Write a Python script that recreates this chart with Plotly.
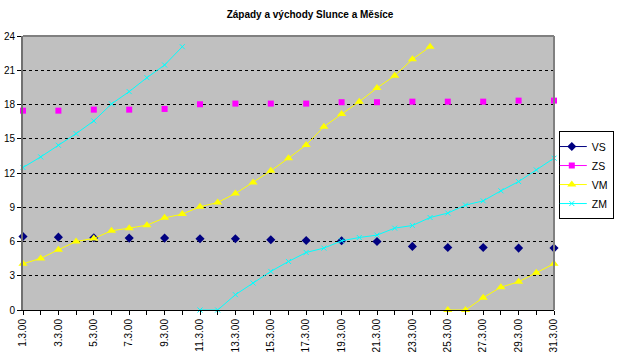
import plotly.graph_objects as go

# ---- data ----
days = list(range(1, 32))
date_labels = [f"{d}.3.00" for d in days]
tick_labels = [lbl if d % 2 == 1 else "" for d, lbl in zip(days, date_labels)]
y_ticks = [0, 3, 6, 9, 12, 15, 18, 21, 24]

vs = [6.44, None, 6.38, None, 6.33, None, 6.30, None, 6.30, None, 6.24, None,
      6.24, None, 6.15, None, 6.09, None, 6.06, None, 6.00, None, 5.57, None,
      5.48, None, 5.48, None, 5.42, None, 5.42]
zs = [17.46, None, 17.46, None, 17.55, None, 17.55, None, 17.61, None, 18.02, None,
      18.08, None, 18.08, None, 18.08, None, 18.20, None, 18.20, None, 18.25, None,
      18.25, None, 18.25, None, 18.34, None, 18.34]
vm = [4.05, 4.52, 5.28, 6.00, 6.27, 6.94, 7.17, 7.43, 8.07, 8.40, 9.04, 9.42,
      10.20, 11.17, 12.19, 13.30, 14.46, 16.06, 17.17, 18.25, 19.45, 20.52, 21.96,
      23.06, 0, 0, 1.08, 2.00, 2.47, 3.26, 4.05]
zm = [12.48, 13.41, 14.43, 15.45, 16.56, 18.05, 19.13, 20.35, 21.46, 23.06, 0, 0,
      1.34, 2.36, 3.38, 4.25, 5.04, 5.42, 6.06, 6.35, 6.56, 7.17, 7.40, 8.10, 8.49,
      9.19, 9.56, 10.44, 11.25, 12.27, 13.30]

FONT = "Arial, Liberation Sans, sans-serif"


def segments(xs, ys):
    """Split a series where the time wraps past midnight (no connecting line)."""
    segs, cx, cy = [], [], []
    prev = None
    for x, y in zip(xs, ys):
        if prev is not None and y is not None and prev - y > 12:
            segs.append((cx, cy))
            cx, cy = [], []
        cx.append(x)
        cy.append(y)
        if y is not None:
            prev = y
    segs.append((cx, cy))
    return segs


series = [
    ("VS", vs, "#000080", "diamond", 7),
    ("ZS", zs, "#FF00FF", "square", 6),
    ("VM", vm, "#FFFF00", "triangle-up", 8),
    ("ZM", zm, "#00FFFF", "x-thin", 5),
]

fig = go.Figure()
for name, vals, color, sym, size in series:
    for k, (sx, sy) in enumerate(segments(days, vals)):
        marker = dict(color=color, symbol=sym, size=size)
        if sym == "x-thin":
            marker["line"] = dict(color=color, width=1)
        fig.add_trace(go.Scatter(
            x=sx, y=sy, name=name, legendgroup=name, showlegend=(k == 0),
            mode="lines+markers", connectgaps=False, cliponaxis=False,
            line=dict(color=color, width=1), marker=marker,
        ))

fig.update_layout(
    width=620, height=360,
    margin=dict(l=23, r=66, t=36, b=50, autoexpand=False),
    paper_bgcolor="white", plot_bgcolor="#C0C0C0",
    font=dict(family=FONT, size=10, color="black"),
    title=dict(text="<b>Západy a východy Slunce a Měsíce</b>",
               x=0.5, xanchor="center", xref="container",
               y=0.96, yanchor="middle", yref="container",
               font=dict(family=FONT, size=10, color="black")),
    showlegend=True,
    legend=dict(xref="container", yref="container",
                x=0.99, xanchor="right", y=0.636, yanchor="top",
                bgcolor="white", bordercolor="black", borderwidth=1,
                font=dict(family=FONT, size=10.5, color="black"),
                itemwidth=30, tracegroupgap=0, indentation=-8),
    xaxis=dict(range=[1, 31], tickmode="array", tickvals=days, ticktext=tick_labels,
               tickangle=-90, ticks="outside", ticklen=4, tickcolor="black",
               showline=True, linecolor="black", linewidth=1,
               showgrid=False, zeroline=False, automargin=False,
               tickfont=dict(family=FONT, size=10, color="black")),
    yaxis=dict(range=[0, 24], tickmode="array", tickvals=y_ticks,
               ticks="outside", ticklen=4, tickcolor="black",
               showline=True, linecolor="#707070", linewidth=2,
               showgrid=True, gridcolor="black", gridwidth=1, griddash="3px,3px",
               zeroline=False, automargin=False,
               tickfont=dict(family=FONT, size=10, color="black")),
    shapes=[
        dict(type="line", xref="paper", yref="paper", x0=0, x1=1, y0=1, y1=1,
             line=dict(color="#808080", width=2)),
        dict(type="line", xref="paper", yref="paper", x0=1, x1=1, y0=0, y1=1,
             line=dict(color="#808080", width=2)),
    ],
)

fig.write_html("out.html", config={"displayModeBar": False},
               post_script="document.body.style.margin='0';")
